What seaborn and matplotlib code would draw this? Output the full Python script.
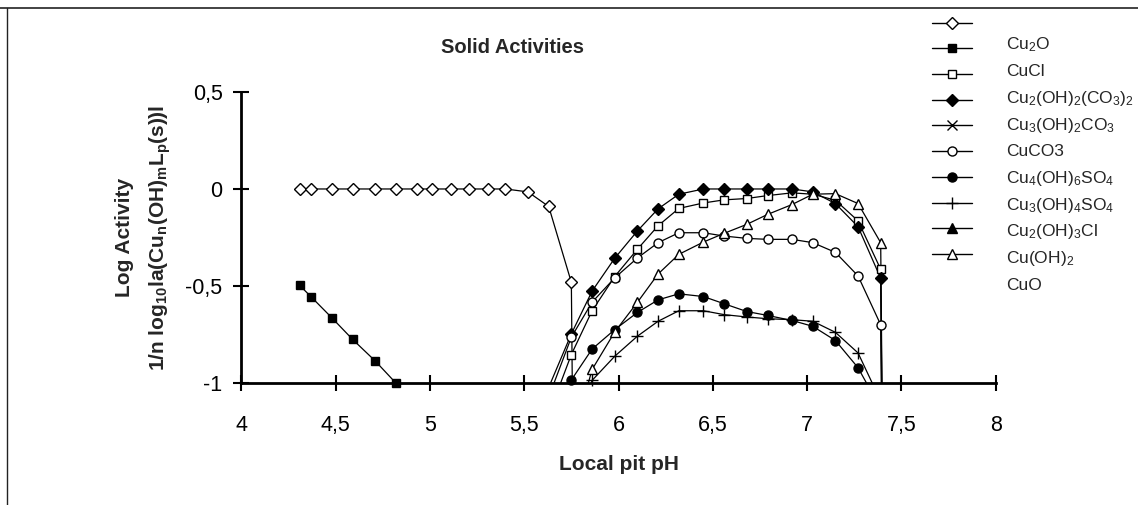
import matplotlib
matplotlib.use('Agg')
import matplotlib.pyplot as plt
from matplotlib.lines import Line2D
import seaborn as sns

# --- Data ---
PH_LEFT = [4.31, 4.37, 4.48, 4.59, 4.71, 4.82, 4.93, 5.01, 5.11, 5.21, 5.31, 5.40,
           5.52, 5.63, 5.75, 5.86]
PH_RIGHT = [5.63, 5.75, 5.86, 5.98, 6.10, 6.21, 6.32, 6.45, 6.56, 6.68, 6.79, 6.92,
            7.03, 7.15, 7.27, 7.39, 7.50]

unlabeled = [0, 0, 0, 0, 0, 0, 0, 0, 0, 0, 0, 0, -0.015, -0.09, -0.48, -12.0]
cu2o = [-0.496, -0.554, -0.662, -0.773, -0.884, -0.998]
cucl = [-1.16, -0.851, -0.626, -0.45, -0.31, -0.189, -0.10, -0.072, -0.056, -0.049,
        -0.034, -0.02, -0.027, -0.058, -0.164, -0.413, -12.0]
cu2_oh2_co3_2 = [-1.02, -0.745, -0.525, -0.356, -0.216, -0.102, -0.027, 0, 0, 0, 0, 0,
                 -0.015, -0.075, -0.194, -0.459, -12.0]
cuco3 = [-1.07, -0.762, -0.582, -0.457, -0.355, -0.276, -0.225, -0.225, -0.242, -0.254,
         -0.259, -0.259, -0.276, -0.326, -0.447, -0.698, -12.0]
cu4_oh6_so4 = [-1.07, -0.982, -0.823, -0.723, -0.635, -0.57, -0.539, -0.553, -0.59,
               -0.63, -0.65, -0.676, -0.706, -0.779, -0.919, -1.13]
cu3_oh4_so4 = [-1.3, -0.984, -0.86, -0.757, -0.68, -0.626, -0.626, -0.646, -0.658,
               -0.667, -0.672, -0.68, -0.737, -0.843, -1.09]
cu_oh2 = [-1.31, -0.928, -0.735, -0.583, -0.437, -0.336, -0.273, -0.228, -0.182, -0.131,
          -0.08, -0.027, -0.024, -0.075, -0.276, -12.0]

LEGEND_LABELS = ['Cu$_2$O', 'CuCl', 'Cu$_2$(OH)$_2$(CO$_3$)$_2$', 'Cu$_3$(OH)$_2$CO$_3$',
                 'CuCO3', 'Cu$_4$(OH)$_6$SO$_4$', 'Cu$_3$(OH)$_4$SO$_4$', 'Cu$_2$(OH)$_3$Cl',
                 'Cu(OH)$_2$', 'CuO']
XTICKS = [4, 4.5, 5, 5.5, 6, 6.5, 7, 7.5, 8]
XTICK_LABELS = ['4', '4,5', '5', '5,5', '6', '6,5', '7', '7,5', '8']
YTICKS = [-1, -0.5, 0, 0.5]
YTICK_LABELS = ['-1', '-0,5', '0', '0,5']

# (x, y, marker, face) -- empty series only show up in the legend
SERIES = [
    (PH_LEFT, unlabeled, 'D', 'white'),
    (PH_LEFT[:6], cu2o, 's', 'black'),
    (PH_RIGHT, cucl, 's', 'white'),
    (PH_RIGHT, cu2_oh2_co3_2, 'D', 'black'),
    ([], [], 'x', 'black'),
    (PH_RIGHT, cuco3, 'o', 'white'),
    (PH_RIGHT[:16], cu4_oh6_so4, 'o', 'black'),
    (PH_RIGHT[1:16], cu3_oh4_so4, '+', 'black'),
    ([], [], '^', 'black'),
    (PH_RIGHT[1:], cu_oh2, '^', 'white'),
]
MSIZE = {'D': 6.0, 's': 6.0, 'o': 6.5, '^': 7.0, '+': 8.0, 'x': 7.0}
YMIN, YMAX = -1, 0.5

# --- Styling ---
sns.set_theme(style="white")
plt.rcParams['font.family'] = ['Liberation Sans', 'DejaVu Sans']
plt.rcParams['mathtext.default'] = 'regular'
plt.rcParams['axes.unicode_minus'] = False

fig = plt.figure(figsize=(11.38, 5.05), dpi=100)
ax = fig.add_axes([0.212, 0.2406, 0.663, 0.5778])

handles = []
for x, y, mk, face in SERIES:
    style = dict(color='black', marker=mk, markersize=MSIZE[mk], markerfacecolor=face,
                 markeredgecolor='black', markeredgewidth=1.0)
    handles.append(Line2D([], [], linewidth=1.0, **style))
    if not x:
        continue
    # line (clipped at the axis floor)
    sns.lineplot(x=x, y=y, ax=ax, color='black', linewidth=0.9, errorbar=None,
                 sort=False, marker=None)
    # markers that lie inside the value range, drawn unclipped
    mx = [a for a, b in zip(x, y) if b >= YMIN - 0.005]
    my = [b for b in y if b >= YMIN - 0.005]
    sns.lineplot(x=mx, y=my, ax=ax, errorbar=None, sort=False, linestyle='none',
                 clip_on=False, zorder=3, **style)

ax.set_xlim(4, 8)
ax.set_ylim(YMIN, YMAX)
ax.set_xticks(XTICKS)
ax.set_xticklabels(XTICK_LABELS)
ax.set_yticks(YTICKS)
ax.set_yticklabels(YTICK_LABELS)
ax.tick_params(axis='both', direction='inout', length=11, width=1.5, labelsize=15.5,
               colors='black', bottom=True, left=True)
ax.tick_params(axis='x', pad=17)
ax.tick_params(axis='y', pad=8)
for side in ['top', 'right']:
    ax.spines[side].set_visible(False)
for side in ['left', 'bottom']:
    ax.spines[side].set_color('black')
    ax.spines[side].set_linewidth(2.0)

ax.set_xlabel('Local pit pH', fontsize=15, fontweight='bold', labelpad=14)
ax.set_ylabel('Log Activity\n1/n log$_{10}$la(Cu$_n$(OH)$_m$L$_p$(s))l', fontsize=15,
              fontweight='bold', labelpad=9, linespacing=1.8)
fig.text(0.45, 0.905, 'Solid Activities', ha='center', va='center', fontsize=14.5,
         fontweight='bold')

# legend: marker column, with the names set in their own column (as in the original)
leg = fig.legend(handles, [''] * len(handles), loc='upper left',
                 bbox_to_anchor=(0.8187, 0.969), frameon=False, fontsize=12.5,
                 handlelength=2.3, handleheight=1.0, labelspacing=0.52,
                 borderpad=0, borderaxespad=0, handletextpad=0)
for i, lab in enumerate(LEGEND_LABELS):
    fig.text(0.884, 1 - (49.5 + i * 26.67) / 505, lab, ha='left', va='baseline',
             fontsize=12.5)

# outer frame (only top and left edges show)
fig.add_artist(Line2D([0, 1], [0.9836, 0.9836], color='#222222', linewidth=1.2))
fig.add_artist(Line2D([0.0059, 0.0059], [0, 0.9836], color='#222222', linewidth=1.0))

fig.savefig('out.png', dpi=100, facecolor='white')
